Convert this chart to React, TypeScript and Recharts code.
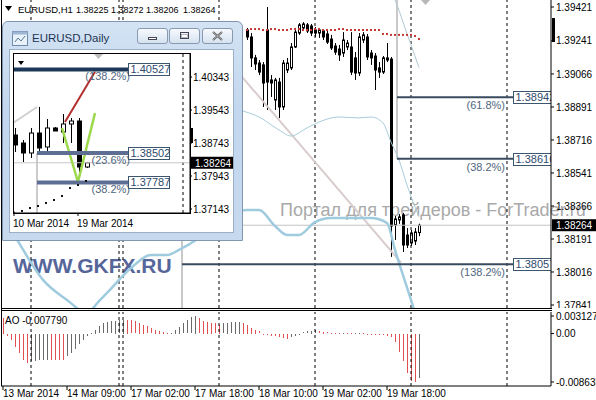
import React from "react";
import { ComposedChart, BarChart, Bar, Line, XAxis, YAxis, ReferenceLine } from "recharts";

const FONT = '"Liberation Sans", Arial, sans-serif';

// ---------- EURUSD,H1 : candles right of the Daily window (bar index 61..104) ----------
const h1First = 61;
const h1Open = [
  1.39299, 1.39262, 1.39151, 1.39124, 1.39114, 1.39299, 1.39034, 1.38928, 1.39023, 1.38891,
  1.39087, 1.39098, 1.39209, 1.39283, 1.3931, 1.39326, 1.3932, 1.39299, 1.39283, 1.39294,
  1.39278, 1.39251, 1.39214, 1.39198, 1.39177, 1.39209, 1.39209, 1.39151, 1.39071, 1.39246,
  1.39262, 1.39177, 1.39161, 1.39098, 1.39076, 1.39151, 1.39145, 1.38265, 1.38292, 1.38318,
  1.38212, 1.3817, 1.3818, 1.38225,
];
const h1High = [
  1.3931, 1.39283, 1.39167, 1.3914, 1.39129, 1.39421, 1.3906, 1.39045, 1.39045, 1.3914,
  1.39151, 1.3923, 1.3931, 1.39336, 1.39341, 1.39336, 1.39331, 1.39315, 1.3931, 1.39304,
  1.39299, 1.39273, 1.3923, 1.3922, 1.39288, 1.39246, 1.39288, 1.39182, 1.39283, 1.39288,
  1.39278, 1.39193, 1.39177, 1.39129, 1.39161, 1.3923, 1.39156, 1.38313, 1.38323, 1.38329,
  1.38249, 1.38239, 1.38249, 1.38272,
];
const h1Low = [
  1.39246, 1.39103, 1.39087, 1.3906, 1.38891, 1.38875, 1.38944, 1.38875, 1.38832, 1.38875,
  1.39071, 1.39087, 1.39204, 1.39273, 1.39299, 1.39283, 1.39267, 1.39262, 1.39257, 1.39246,
  1.39225, 1.39193, 1.39167, 1.39135, 1.39156, 1.39193, 1.3906, 1.39034, 1.39055, 1.3923,
  1.3914, 1.39114, 1.38981, 1.39045, 1.39066, 1.39129, 1.38096, 1.38186, 1.38271, 1.38122,
  1.38143, 1.38154, 1.38159, 1.38206,
];
const h1Close = [
  1.39262, 1.39151, 1.39119, 1.39076, 1.39018, 1.39023, 1.39018, 1.39034, 1.38891, 1.39124,
  1.39124, 1.39209, 1.39288, 1.39326, 1.39331, 1.39294, 1.39283, 1.39283, 1.39299, 1.39262,
  1.39235, 1.39204, 1.39182, 1.39167, 1.39246, 1.3923, 1.39076, 1.39071, 1.39262, 1.39273,
  1.39156, 1.39151, 1.39087, 1.39076, 1.39151, 1.3914, 1.3826, 1.38297, 1.38308, 1.38159,
  1.38159, 1.38223, 1.38228, 1.38264,
];

// red dotted line above the price
const sarFirst = 61;
const sarValues = [
  1.39299, 1.39304, 1.39304, 1.39304, 1.39299, 1.39299, 1.39304, 1.39304, 1.39299, 1.39299,
  1.39299, 1.39304, 1.39304, 1.39304, 1.39299, 1.39299, 1.39299, 1.39304, 1.39304, 1.39299,
  1.39299, 1.39299, 1.39299, 1.39304, 1.39304, 1.39299, 1.39299, 1.39299, 1.39299, 1.39299,
  1.39299, 1.39299, 1.39299, 1.39299, 1.39278, 1.39278, 1.39273, 1.39273, 1.39273, 1.39273,
  1.39273, 1.39273, 1.39267, 1.39251,
];

// bands: points
const lowerBandIdx = [0, 4, 10, 16, 21, 24, 26, 32, 37, 41, 44, 49, 54, 57, 61, 64, 68, 71, 74, 78, 82, 92, 96, 98, 102, 104];
const lowerBandVal = [
  1.38318, 1.3817, 1.37974, 1.37868, 1.37799, 1.37862, 1.37905, 1.38037, 1.38106, 1.38106,
  1.38133, 1.38196, 1.38281, 1.38324, 1.38345, 1.38345, 1.3826, 1.38212, 1.38212, 1.38281,
  1.38302, 1.38302, 1.38276, 1.38133, 1.37868, 1.37735,
];
const midBandIdx = [59, 64, 69, 72, 76, 79, 84, 89, 92, 95, 97, 99, 101, 103, 104];
const midBandVal = [
  1.38875, 1.38838, 1.38769, 1.38737, 1.3878, 1.38811, 1.38838, 1.38833, 1.38838, 1.38806,
  1.38705, 1.3861, 1.38477, 1.38361, 1.38308,
];
const upperBandIdx = [95, 98, 101, 104];
const upperBandVal = [1.396, 1.3946, 1.3928, 1.391];

const trendline = [
  { x: 49.25, y: 1.39311 },
  { x: 99.5, y: 1.38066 },
];

const fibLevels = [1.38942, 1.38616, 1.38057];
const fibStart = [98.5, 98.5, 44.75];
const fibPct = ["(61.8%)", "(38.2%)", "(138.2%)"];
const fibEnd = 127.5;

const lastPrice = 1.38264;
const titleValues = ["1.38225", "1.38272", "1.38206", "1.38264"];
const priceTicks = [1.39421, 1.39241, 1.39066, 1.38891, 1.38716, 1.38541, 1.38366, 1.38191, 1.38016, 1.37841];
const timeTickIdx = [0, 16, 32, 48, 64, 80, 96];
const timeTickLabels = ["13 Mar 2014", "14 Mar 09:00", "17 Mar 02:00", "17 Mar 18:00", "18 Mar 10:00", "19 Mar 02:00", "19 Mar 18:00"];
const daySeparators = [7, 29, 30, 54, 78, 102, 126];

// Awesome Oscillator, bars 0..104
const aoValues = [
  0.0028, -0.0003, -0.001, -0.0023, -0.0034, -0.0046, -0.0051, -0.0048, -0.00475, -0.0047,
  -0.00465, -0.0046, -0.00462, -0.00464, -0.00466, -0.00468, -0.004, -0.0034, -0.0027, -0.0017,
  -0.001, -0.0004, 0.0001, 0.0007, 0.0013, 0.0018, 0.002, 0.0022, 0.0023, 0.00235,
  0.0025, 0.00248, 0.0024, 0.0022, 0.0019, 0.0016, 0.0013, 0.0009, 0.0007, 0.0005,
  0.0003, 0.0001, 0.00015, 0.0007, 0.0012, 0.0018, 0.0024, 0.0029, 0.003127, 0.0027,
  0.0023, 0.0021, 0.0019, 0.0018, 0.0016, 0.0018, 0.0019, 0.002, 0.00208, 0.00211,
  0.0019, 0.0016, 0.001, 0.0007, 0.0004, -0.0001, -0.0002, -0.0003, -0.0004, -0.0006,
  -0.0007, -0.0009, -0.0006, -0.0003, -0.0001, 0.0002, 0.0004, 0.0005, 0.0006, 0.0004,
  0.0003, 0.0002, 0.0001, 0.00005, 0.00003, 0.00006, 0.00004, 0.00002, 0.00003, 0.00005,
  0.00002, -0.00002, -0.00005, -0.0001, -0.0002, -0.00025, -0.0004, -0.0006, -0.0014, -0.0032,
  -0.0049, -0.0069, -0.0083, -0.008635, -0.00779,
];
const aoTicks = [0.003127, 0, -0.008635];
const AO_UP = "#6a6a6a";
const AO_DOWN = "#e05050";

// ---------- EURUSD,Daily (inset) ----------
const dailyOpen = [1.38937, 1.38743, 1.38501, 1.38985, 1.38646, 1.39107, 1.3901, 1.39204, 1.39276, 1.38161];
const dailyHigh = [1.39107, 1.38816, 1.39107, 1.39616, 1.39325, 1.39131, 1.39446, 1.39349, 1.39349, 1.38285];
const dailyLow = [1.38525, 1.38282, 1.38379, 1.38525, 1.38525, 1.39034, 1.38743, 1.38743, 1.3804, 1.38137];
const dailyClose = [1.38695, 1.38501, 1.38985, 1.38622, 1.39107, 1.39034, 1.39204, 1.39276, 1.38161, 1.38264];
const dailySar = [1.37053, 1.37095, 1.37167, 1.37216, 1.37289, 1.37361, 1.37458, 1.37652, 1.37725, 1.37822];
const dailyPriceTicks = [1.40343, 1.39543, 1.38743, 1.37943, 1.37143];
const dailyTickIdx = [0, 8];
const dailyTickLabels = ["10 Mar 2014", "19 Mar 2014"];
const dailyFibLevels = [1.40527, 1.38502, 1.37787];
const dailyFibStart = [-0.125, 2.875, 2.875];
const dailyFibPct = ["(138.2%)", "(23.6%)", "(38.2%)"];
const dailyFibColor = ["#1d3859", "#5d6d93", "#5d6d93"];
const dailyFibEnd = 14.25;
const dailyRedLine = [{ x: 6.375, y: 1.39252 }, { x: 10.125, y: 1.40471 }];
const dailyGreenV = [{ x: 6, y: 1.39107 }, { x: 8, y: 1.37798 }, { x: 10.125, y: 1.3947 }];
const dailyGrayLine = [{ x: -0.125, y: 1.39228 }, { x: 2.875, y: 1.39616 }];

const MAIN_DOMAIN: [number, number] = [1.378251, 1.394581];
const AO_DOMAIN: [number, number] = [-0.009348, 0.00384];
const DAILY_DOMAIN: [number, number] = [1.37046, 1.40925];

function buildMainRows() {
  const rows: any[] = [];
  for (let i = 0; i <= 104; i++) rows.push({ i });
  h1Open.forEach((o, k) => {
    const r = rows[h1First + k];
    r.open = o;
    r.high = h1High[k];
    r.low = h1Low[k];
    r.close = h1Close[k];
    r.range = [h1Low[k], h1High[k]];
  });
  sarValues.forEach((v, k) => (rows[sarFirst + k].sar = v));
  lowerBandIdx.forEach((idx, k) => (rows[idx].lower = lowerBandVal[k]));
  midBandIdx.forEach((idx, k) => (rows[idx].mid = midBandVal[k]));
  upperBandIdx.forEach((idx, k) => (rows[idx].upper = upperBandVal[k]));
  return rows;
}

const candleShape = (bodyW: number) => (p: any) => {
  const d = p.payload;
  if (!d || d.open == null) return <g />;
  const top = Math.min(p.y, p.y + p.height);
  const h = Math.abs(p.height);
  const span = d.high - d.low || 1;
  const py = (v: number) => top + ((d.high - v) / span) * h;
  const cx = Math.round(p.x + p.width / 2) + 0.5;
  const yo = py(d.open);
  const yc = py(d.close);
  const bt = Math.min(yo, yc);
  const bh = Math.max(1, Math.abs(yo - yc));
  return (
    <g>
      <line x1={cx} x2={cx} y1={top} y2={top + h} stroke="#000" strokeWidth={1} />
      <rect
        x={cx - (bodyW - 1) / 2}
        y={bt}
        width={bodyW - 1}
        height={bh}
        fill={d.close >= d.open ? "#fff" : "#000"}
        stroke="#000"
        strokeWidth={1}
      />
    </g>
  );
};

const sqDot = (color: string) => (p: any) => {
  if (p.cy == null || p.value == null) return <g key={p.key} />;
  return <rect key={p.key} x={p.cx - 1} y={p.cy - 1} width={2} height={2} fill={color} />;
};

const priceTag = (text: string, w: number) => (p: any) => {
  const vb = p.viewBox;
  const x = vb.x + vb.width + 1;
  const y = vb.y;
  return (
    <g>
      <rect x={x} y={y - 6} width={w} height={12} fill="#000" />
      <text x={x + 4} y={y + 4} fill="#fff" fontSize={10} fontFamily={FONT}>
        {text}
      </text>
    </g>
  );
};

const fibLabel = (pct: string, price: string, o: { gap: number; dy: number; boxW: number; boxH: number; clipX?: number; id: string }) => (p: any) => {
  const vb = p.viewBox;
  const x = vb.x + vb.width;
  const y = vb.y;
  return (
    <g>
      <text x={x - o.gap} y={y + o.dy} textAnchor="end" fontSize={11} fill="#4f6680" fontFamily={FONT}>
        {pct}
      </text>
      <defs>
        <clipPath id={o.id}>
          <rect x={x - 1} y={y - 10} width={(o.clipX ?? x + 100) - x + 1} height={20} />
        </clipPath>
      </defs>
      <g clipPath={`url(#${o.id})`}>
        <rect x={x + 0.5} y={Math.round(y - o.boxH / 2) + 0.5} width={o.boxW} height={o.boxH} fill="#fff" stroke="#3d5670" />
        <text x={x + 2.5} y={y + 4} fontSize={11} fill="#2e4a6c" fontFamily={FONT}>
          {price}
        </text>
      </g>
    </g>
  );
};

const TimeTick = (p: any) => {
  const idx = timeTickIdx.indexOf(p.payload.value);
  return (
    <text x={p.x} y={p.y} dy="0.71em" textAnchor="start" fontSize={10} fill="#000" fontFamily={FONT}>
      {timeTickLabels[idx]}
    </text>
  );
};

const DailyTick = (p: any) => {
  const idx = dailyTickIdx.indexOf(p.payload.value);
  return (
    <text x={p.x - 1} y={p.y} dy="0.71em" textAnchor="start" fontSize={10} fill="#000" fontFamily={FONT}>
      {dailyTickLabels[idx]}
    </text>
  );
};

// one series per colour: bars that rose vs. the previous bar, bars that fell
const aoShape = (color: string) => (p: any) => {
  if (p.height == null || p.value == null || (Array.isArray(p.value) && p.value[1] === p.value[0])) return <g />;
  const cx = Math.round(p.x + p.width / 2);
  const top = Math.min(p.y, p.y + p.height);
  const h = Math.max(1, Math.round(Math.abs(p.height)));
  return <rect x={cx} y={Math.round(top)} width={1} height={h} fill={color} stroke="none" />;
};

const tickStyle = { fontSize: 10, fill: "#000", fontFamily: FONT };

function WinButton({ left, kind }: { left: number; kind: string }) {
  return (
    <div
      style={{
        position: "absolute",
        left,
        top: 28,
        width: 31,
        height: 16,
        boxSizing: "border-box",
        border: "1px solid #8899b0",
        borderRadius: 3,
        background: "linear-gradient(#f6f9fd, #d6e2f0)",
      }}
    >
      <svg width={29} height={14} style={{ display: "block" }}>
        {kind === "min" && <rect x={10.5} y={8.5} width={8} height={2} fill="#fff" stroke="#445" />}
        {kind === "max" && <rect x={10.5} y={3.5} width={8} height={6} fill="none" stroke="#445" strokeWidth={1} />}
        {kind === "max" && <rect x={11.5} y={5.5} width={6} height={3} fill="#fff" stroke="#778" strokeWidth={0.5} />}
        {kind === "close" && <path d="M10 3 L19 11 M19 3 L10 11" stroke="#555" strokeWidth={2} />}
        {kind === "close" && <path d="M10 3 L19 11 M19 3 L10 11" stroke="#eee" strokeWidth={0.6} />}
      </svg>
    </div>
  );
}

export default function App() {
  const mainRows = buildMainRows();
  const aoRows = aoValues.map((v, i) => {
    const up = i > 0 && v > aoValues[i - 1];
    return { i, aoUp: up ? v : null, aoDown: up ? null : v };
  });
  const dailyRows = dailyOpen.map((o, k) => ({
    k,
    open: o,
    high: dailyHigh[k],
    low: dailyLow[k],
    close: dailyClose[k],
    range: [dailyLow[k], dailyHigh[k]],
    sar: dailySar[k],
  }));
  const titleX = [76, 111, 146, 183];

  return (
    <div
      style={{
        position: "fixed",
        left: 0,
        top: 0,
        width: 596,
        height: 400,
        background: "#fff",
        overflow: "hidden",
        fontFamily: FONT,
      }}
    >
      {/* watermarks behind the chart */}
      <svg width={596} height={400} style={{ position: "absolute", left: 0, top: 0 }}>
        <text x={280} y={216} fontSize={18} fill="#a9a9a9" fontFamily={FONT}>
          Портал для трейдеров - ForTrader.ru
        </text>
        <text x={13} y={273} fontSize={21} fontWeight="bold" fill="#56669a" fontFamily={FONT}>
          WWW.GKFX.RU
        </text>
      </svg>

      {/* H1 price panel */}
      <div style={{ position: "absolute", left: 0, top: 0 }}>
        <ComposedChart width={596} height={308} data={mainRows} margin={{ top: 0, right: 0, bottom: 0, left: 1 }}>
          <XAxis type="number" dataKey="i" domain={[-0.5, 137]} allowDataOverflow hide />
          <YAxis
            orientation="right"
            width={45}
            domain={MAIN_DOMAIN}
            allowDataOverflow
            ticks={priceTicks}
            interval={0}
            tickFormatter={(v: number) => v.toFixed(5)}
            tickSize={3}
            tickMargin={2}
            axisLine={{ stroke: "#000" }}
            tickLine={{ stroke: "#000" }}
            tick={tickStyle}
          />
          {daySeparators.map((d) => (
            <ReferenceLine key={"sep" + d} x={d} stroke="#000" strokeDasharray="3 3" />
          ))}
          <ReferenceLine segment={[{ x: 44.75, y: 1.3845 }, { x: 44.75, y: MAIN_DOMAIN[0] }]} stroke="#c9c9c9" strokeWidth={2} />
          <ReferenceLine segment={[{ x: 98.5, y: MAIN_DOMAIN[1] }, { x: 98.5, y: 1.38616 }]} stroke="#c9c9c9" strokeWidth={2} />
          <ReferenceLine segment={trendline} stroke="#d8cccc" strokeWidth={2} />
          <ReferenceLine y={lastPrice} stroke="#c4c4c4" label={priceTag("1.38264", 44)} />
          <Line dataKey="lower" type="monotone" connectNulls dot={false} activeDot={false} stroke="#9fcbdf" strokeWidth={2.5} isAnimationActive={false} />
          <Line dataKey="mid" type="monotone" connectNulls dot={false} activeDot={false} stroke="#a9cdd9" strokeWidth={1} isAnimationActive={false} />
          <Line dataKey="upper" type="monotone" connectNulls dot={false} activeDot={false} stroke="#b3c9d3" strokeWidth={1} isAnimationActive={false} />
          <Bar dataKey="range" barSize={3} shape={candleShape(3)} isAnimationActive={false} />
          <Line dataKey="sar" stroke="none" strokeWidth={0} dot={sqDot("#c23b32")} activeDot={false} isAnimationActive={false} />
          {fibLevels.map((lv, n) => (
            <ReferenceLine
              key={"fib" + n}
              segment={[{ x: fibStart[n], y: lv }, { x: fibEnd, y: lv }]}
              stroke="#384b5f"
              strokeWidth={2}
              label={fibLabel(fibPct[n], lv.toFixed(5), { gap: 8, dy: 12, boxW: 44, boxH: 12, clipX: 551, id: "fibclip" + n })}
            />
          ))}
        </ComposedChart>
      </div>

      {/* AO panel */}
      <div style={{ position: "absolute", left: 0, top: 310 }}>
        <BarChart width={596} height={90} data={aoRows} margin={{ top: 2, right: 0, bottom: 0, left: 1 }}>
          <XAxis
            type="number"
            dataKey="i"
            domain={[-0.5, 137]}
            allowDataOverflow
            ticks={timeTickIdx}
            interval={0}
            height={14}
            tickSize={4}
            tickMargin={0}
            axisLine={{ stroke: "#000" }}
            tickLine={{ stroke: "#000" }}
            tick={TimeTick}
          />
          <YAxis
            orientation="right"
            width={45}
            domain={AO_DOMAIN}
            allowDataOverflow
            ticks={aoTicks}
            interval={0}
            tickFormatter={(v: number) => (v === 0 ? "0.00" : v.toFixed(6))}
            tickSize={3}
            tickMargin={2}
            axisLine={{ stroke: "#000" }}
            tickLine={{ stroke: "#000" }}
            tick={tickStyle}
          />
          {daySeparators.map((d) => (
            <ReferenceLine key={"aosep" + d} x={d} stroke="#000" strokeDasharray="3 3" />
          ))}
          <Bar dataKey="aoUp" stackId="ao" barSize={1} fill={AO_UP} shape={aoShape(AO_UP)} isAnimationActive={false} />
          <Bar dataKey="aoDown" stackId="ao" barSize={1} fill={AO_DOWN} shape={aoShape(AO_DOWN)} isAnimationActive={false} />
        </BarChart>
      </div>

      {/* panel frames and labels */}
      <div style={{ position: "absolute", left: 1, top: 0, width: 1, height: 386, background: "#000" }} />
      <div style={{ position: "absolute", left: 1, top: 308, width: 551, height: 1, background: "#000" }} />
      <div style={{ position: "absolute", left: 1, top: 310, width: 551, height: 1, background: "#000" }} />
      <div style={{ position: "absolute", left: 552, top: 18, width: 3, height: 24, background: "#000" }} />
      <svg width={596} height={400} style={{ position: "absolute", left: 0, top: 0, pointerEvents: "none" }}>
        <polygon points="5,6 12,6 8.5,11" fill="#000" />
        <text x={18} y={13} fontSize={9.5} fill="#000" fontFamily={FONT}>EURUSD,H1</text>
        {titleValues.map((t, n) => (
          <text key={t + n} x={titleX[n]} y={13} fontSize={9} fill="#000" fontFamily={FONT}>
            {t}
          </text>
        ))}
        <polygon points="421,0 430,0 425.5,5" fill="#b8b8b8" />
        <text x={5} y={324} fontSize={10} fill="#000" fontFamily={FONT}>AO -0.007790</text>
      </svg>

      {/* EURUSD,Daily window */}
      <div
        style={{
          position: "absolute",
          left: 2,
          top: 21,
          width: 241,
          height: 220,
          boxSizing: "border-box",
          border: "1px solid #8196b0",
          borderRadius: "6px 6px 0 0",
          background: "linear-gradient(#d3e3f4, #c2d6ed 40%, #c6d9ef)",
        }}
      />
      <svg width={16} height={15} style={{ position: "absolute", left: 12, top: 31 }}>
        <rect x={0.5} y={0.5} width={15} height={14} fill="#e9f1fa" stroke="#6f8bab" />
        <rect x={0.5} y={0.5} width={15} height={3} fill="#9db6d3" />
        <path d="M3 11 L6 7 L9 10 L13 5" stroke="#5a7494" fill="none" />
      </svg>
      <div style={{ position: "absolute", left: 32, top: 31, fontSize: 11.5, color: "#1f3552", lineHeight: "15px" }}>EURUSD,Daily</div>
      <WinButton left={137} kind="min" />
      <WinButton left={169} kind="max" />
      <WinButton left={202} kind="close" />
      <div
        style={{
          position: "absolute",
          left: 9,
          top: 49,
          width: 225,
          height: 184,
          boxSizing: "border-box",
          border: "1px solid #9aafc6",
          background: "#fff",
        }}
      />
      <div style={{ position: "absolute", left: 10, top: 50 }}>
        <ComposedChart width={223} height={182} data={dailyRows} margin={{ top: 3, right: 0, bottom: 0, left: 3 }}>
          <XAxis
            type="number"
            dataKey="k"
            domain={[-0.125, 22]}
            allowDataOverflow
            ticks={dailyTickIdx}
            interval={0}
            height={19}
            tickSize={3}
            tickMargin={4}
            axisLine={{ stroke: "#000" }}
            tickLine={{ stroke: "#000" }}
            tick={DailyTick}
          />
          <YAxis
            orientation="right"
            width={43}
            domain={DAILY_DOMAIN}
            allowDataOverflow
            ticks={dailyPriceTicks}
            interval={0}
            tickFormatter={(v: number) => v.toFixed(5)}
            tickSize={2}
            tickMargin={1}
            axisLine={{ stroke: "#000" }}
            tickLine={{ stroke: "#000" }}
            tick={tickStyle}
          />
          <ReferenceLine x={21.125} stroke="#000" strokeDasharray="3 3" />
          <ReferenceLine segment={dailyGrayLine} stroke="#d0d0d0" strokeWidth={2} />
          <ReferenceLine segment={[{ x: 2.875, y: 1.38502 }, { x: 2.875, y: DAILY_DOMAIN[0] }]} stroke="#cbcbcb" strokeWidth={2} />
          <ReferenceLine y={lastPrice} stroke="#c8c8c8" label={priceTag("1.38264", 42)} />
          <Bar dataKey="range" barSize={5} shape={candleShape(5)} isAnimationActive={false} />
          <Line dataKey="sar" stroke="none" strokeWidth={0} dot={sqDot("#111")} activeDot={false} isAnimationActive={false} />
          <ReferenceLine segment={dailyRedLine} stroke="#b3302f" strokeWidth={2} />
          <ReferenceLine segment={[dailyGreenV[0], dailyGreenV[1]]} stroke="#9bd94a" strokeWidth={2.5} />
          <ReferenceLine segment={[dailyGreenV[1], dailyGreenV[2]]} stroke="#9bd94a" strokeWidth={2.5} />
          {dailyFibLevels.map((lv, n) => (
            <ReferenceLine
              key={"dfib" + n}
              segment={[{ x: dailyFibStart[n], y: lv }, { x: dailyFibEnd, y: lv }]}
              stroke={dailyFibColor[n]}
              strokeWidth={4}
              label={fibLabel(dailyFibPct[n], lv.toFixed(5), { gap: -2, dy: 11, boxW: 41, boxH: 12, id: "dfibclip" + n })}
            />
          ))}
        </ComposedChart>
      </div>
      <div
        style={{
          position: "absolute",
          left: 13,
          top: 53,
          width: 178,
          height: 161,
          boxSizing: "border-box",
          border: "1px solid #000",
          pointerEvents: "none",
        }}
      />
      <div style={{ position: "absolute", left: 190, top: 128, width: 3, height: 15, background: "#000" }} />
      <svg width={596} height={400} style={{ position: "absolute", left: 0, top: 0, pointerEvents: "none" }}>
        <polygon points="18,61 24,61 21,65" fill="#000" />
        <polygon points="94,54 103,54 98.5,59" fill="#bdbdbd" />
      </svg>
    </div>
  );
}
